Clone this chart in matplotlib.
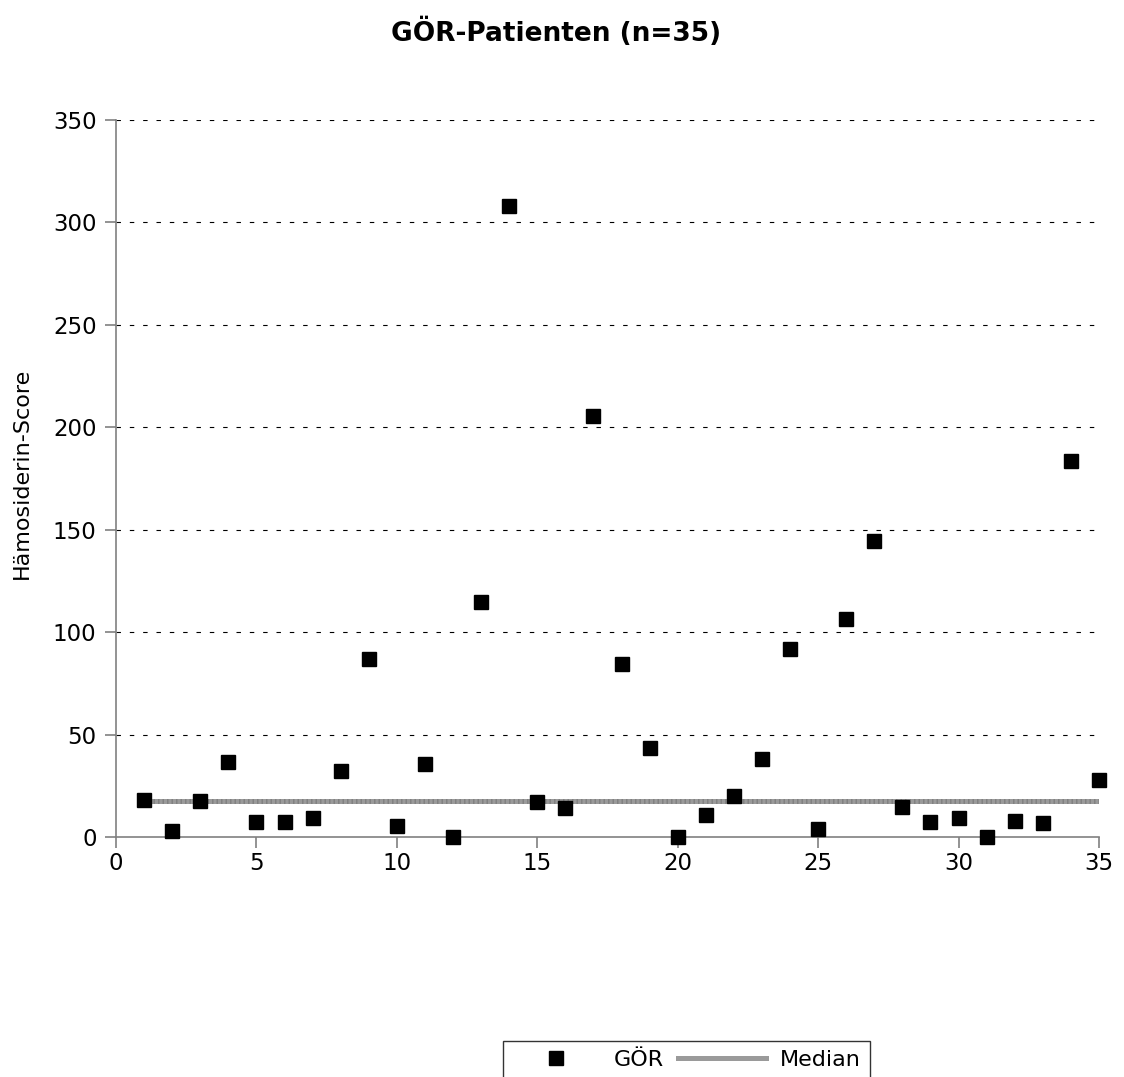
import matplotlib
matplotlib.use("Agg")
import matplotlib.pyplot as plt
import numpy as np
from matplotlib.lines import Line2D

plt.rcParams['font.family'] = ['DejaVu Sans']

patients = list(range(1, 36))
scores = [18, 3, 17.5, 36.6, 7.3, 7.3, 9.3, 32, 87, 5.4,
          35.6, 0, 114.7, 308, 17, 14, 205.5, 84.4, 43.4, 0,
          10.7, 20, 38, 91.8, 3.9, 106.4, 144.5, 14.6, 7.3, 9.3,
          0, 7.8, 6.8, 183.5, 27.8]
median_value = 17.5
title = "GÖR-Patienten (n=35)"
ylabel = "Hämosiderin-Score"
xticks = [0, 5, 10, 15, 20, 25, 30, 35]
yticks = [0, 50, 100, 150, 200, 250, 300, 350]

fig = plt.figure(figsize=(11.24, 10.77), dpi=100)
ax = fig.add_axes([116/1124, 1-837/1077, (1099-116)/1124, (837-120)/1077])

ax.set_xlim(0, 35)
ax.set_ylim(0, 350)

for y in yticks[1:]:
    ax.axhline(y, color='black', lw=0.8, linestyle=(0, (4, 8)), zorder=1)

ax.plot([patients[0], patients[-1]], [median_value, median_value], color='#9a9a9a',
        lw=3.6, zorder=2, solid_capstyle='butt')
ax.plot([patients[0], patients[-1]], [median_value, median_value], color='#6a6a6a',
        lw=3.6, linestyle=(0, (0.3, 0.6)), zorder=2, alpha=0.5)
ax.plot(patients, scores, linestyle='none', marker='s', markersize=10.5,
        color='black', zorder=3, clip_on=False)

for s in ['top', 'right']:
    ax.spines[s].set_visible(False)
for s in ['left', 'bottom']:
    ax.spines[s].set_color('#808080')
    ax.spines[s].set_linewidth(1.2)

ax.set_xticks(xticks)
ax.set_yticks(yticks)
ax.tick_params(axis='both', direction='out', length=8, width=1.2, color='#808080',
               labelsize=16.5)
ax.tick_params(axis='y', pad=6)
ax.tick_params(axis='x', pad=3)

fig.text(0.495, 1-32/1077, title, ha='center', va='center', fontsize=19,
         fontweight='bold')
fig.text(22/1124, 1-473/1077, ylabel, rotation=90, ha='center', va='center',
         fontsize=16)

handles = [Line2D([], [], linestyle='none', marker='s', markersize=10.5, color='black'),
           Line2D([], [], color='#9a9a9a', lw=3.6)]
leg = fig.legend(handles, ['GÖR', 'Median'], ncol=2, loc='upper left',
                 bbox_to_anchor=(503/1124, 1-1041/1077), frameon=True,
                 fancybox=False, fontsize=16, handlelength=4.0,
                 columnspacing=0.6, handletextpad=0.6, borderpad=0.4,
                 borderaxespad=0)
leg.get_frame().set_edgecolor('black')
leg.get_frame().set_linewidth(1.0)

fig.savefig("out.png", dpi=100)
